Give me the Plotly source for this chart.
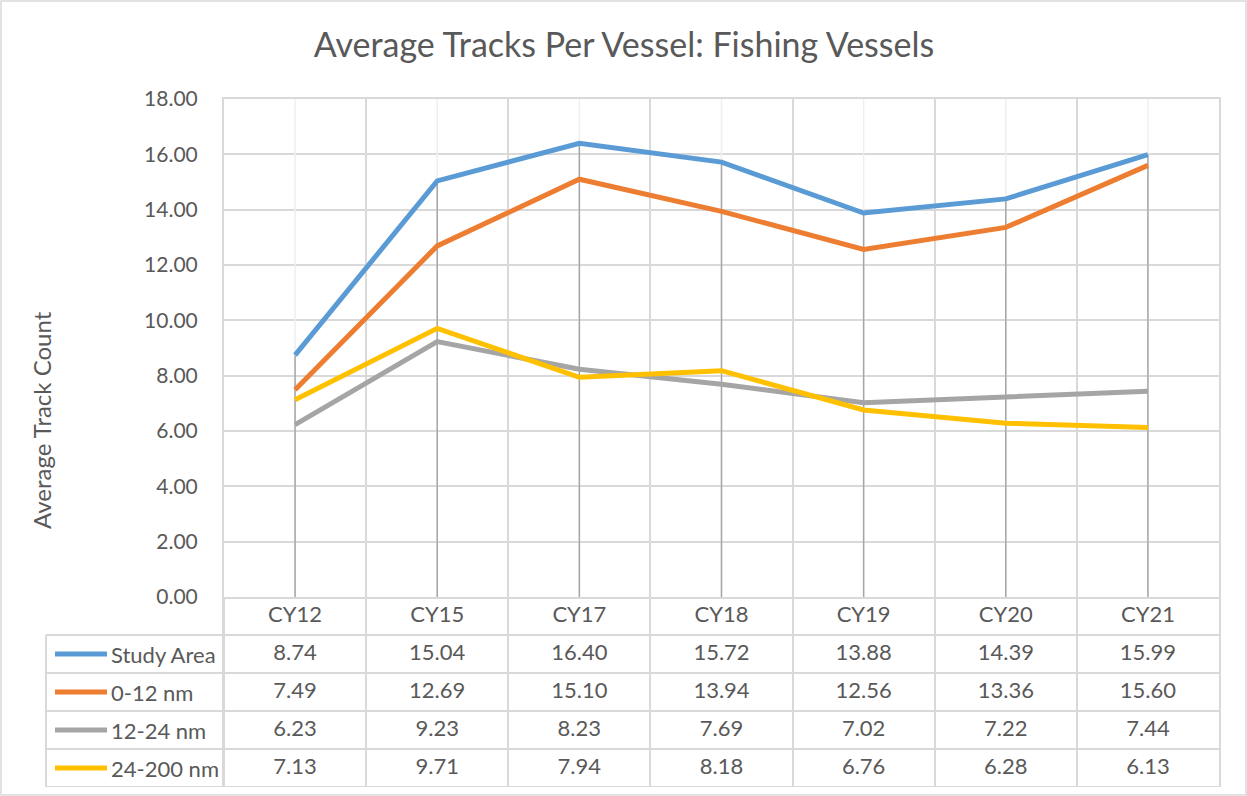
import plotly.graph_objects as go

# data
categories = ["CY12", "CY15", "CY17", "CY18", "CY19", "CY20", "CY21"]
series_names = ["Study Area", "0-12 nm", "12-24 nm", "24-200 nm"]
study_area = [8.74, 15.04, 16.40, 15.72, 13.88, 14.39, 15.99]
nm_0_12 = [7.49, 12.69, 15.10, 13.94, 12.56, 13.36, 15.60]
nm_12_24 = [6.23, 9.23, 8.23, 7.69, 7.02, 7.22, 7.44]
nm_24_200 = [7.13, 9.71, 7.94, 8.18, 6.76, 6.28, 6.13]
y_ticks = [0, 2, 4, 6, 8, 10, 12, 14, 16, 18]

series_values = [study_area, nm_0_12, nm_12_24, nm_24_200]
colors = ["#5B9BD5", "#ED7D31", "#A5A5A5", "#FFC000"]

FONT = "Lato"
TXT = "#595959"
GRID = "#D9D9D9"

W, H = 1247, 796
L, R, T, B = 224, 28, 99, 9
EXTRA = 14  # spare layout height under the chart, the page comes out a bit short otherwise
plot_w = W - L - R
plot_h = H - T - B


def px_x(px):
    # pixel -> paper x
    return (px - L) / plot_w


def px_y(py):
    # pixel -> paper y
    return (H - B - py) / plot_h


main_bottom = px_y(597)

fig = go.Figure()

# series lines
for name, vals, col in zip(series_names, series_values, colors):
    fig.add_trace(go.Scatter(x=categories, y=vals, mode="lines", name=name,
                             line=dict(color=col, width=5), showlegend=False,
                             hoverinfo="x+y+name"))

# data table (rows 1..4), header row 0 with the categories
cell_font = dict(family=FONT, size=22, color=TXT)
fig.add_trace(go.Scatter(x=categories, y=[0] * len(categories), mode="text",
                         text=categories, xaxis="x", yaxis="y2",
                         textfont=cell_font, showlegend=False, hoverinfo="skip"))
for i, vals in enumerate(series_values):
    fig.add_trace(go.Scatter(x=categories, y=[i + 1] * len(categories), mode="text",
                             text=[f"{v:.2f}" for v in vals], xaxis="x", yaxis="y2",
                             textfont=cell_font, showlegend=False, hoverinfo="skip"))

shapes = []
# faint centre lines and drop lines
tops = [max(vals) for vals in zip(*series_values)]
for cat, top in zip(categories, tops):
    shapes.append(dict(type="line", xref="x", yref="y", x0=cat, x1=cat,
                       y0=0, y1=y_ticks[-1], layer="between",
                       line=dict(color="#EFEFEF", width=1.5)))
    shapes.append(dict(type="line", xref="x", yref="y", x0=cat, x1=cat,
                       y0=0, y1=top, layer="between",
                       line=dict(color="#A5A5A5", width=1.5)))

# table lines
for r in [0.5, 1.5, 2.5, 3.5, 4.5]:
    shapes.append(dict(type="line", xref="paper", yref="y2", x0=px_x(46), x1=1,
                       y0=r, y1=r, line=dict(color=GRID, width=2)))
for xp in [46, 224]:
    shapes.append(dict(type="line", xref="paper", yref="y2", x0=px_x(xp), x1=px_x(xp),
                       y0=0.5 if xp == 46 else -0.5, y1=4.5,
                       line=dict(color=GRID, width=2)))

# legend keys in the table
annotations = []
for i, (name, col) in enumerate(zip(series_names, colors)):
    shapes.append(dict(type="line", xref="paper", yref="y2", x0=px_x(55), x1=px_x(107),
                       y0=i + 1, y1=i + 1, line=dict(color=col, width=5)))
    annotations.append(dict(text=name, xref="paper", yref="y2", x=px_x(109), y=i + 1,
                            xanchor="left", yanchor="middle", showarrow=False,
                            font=cell_font))

# axis title
annotations.append(dict(text="Average Track Count", xref="paper", yref="paper",
                        x=px_x(41), y=px_y(420), textangle=-90, showarrow=False,
                        xanchor="center", yanchor="middle",
                        font=dict(family=FONT, size=24, color=TXT)))

# chart border
shapes.append(dict(type="rect", xref="paper", yref="paper",
                   x0=px_x(1), x1=px_x(W - 1), y0=px_y(H - 1), y1=px_y(1),
                   line=dict(color=GRID, width=1.5)))

fig.update_layout(
    width=W, height=H + EXTRA, autosize=False,
    margin=dict(l=L, r=R, t=T, b=B + EXTRA),
    paper_bgcolor="white", plot_bgcolor="white",
    title=dict(text="Average Tracks Per Vessel: Fishing Vessels",
               x=624 / W, xanchor="center", y=1 - 45 / (H + EXTRA), yanchor="middle",
               font=dict(family=FONT, size=34, color=TXT)),
    xaxis=dict(type="category", categoryorder="array", categoryarray=categories,
               range=[-0.5, len(categories) - 0.5], tickson="boundaries",
               showgrid=True, gridcolor=GRID, gridwidth=1.5,
               showticklabels=False, ticks="",
               showline=True, linecolor=GRID, linewidth=2, mirror=True,
               anchor="y"),
    yaxis=dict(domain=[main_bottom, 1], range=[0, 18], tickvals=y_ticks,
               tickformat=".2f", showgrid=True, gridcolor=GRID, gridwidth=1.5,
               zeroline=False, showline=True, linecolor=GRID, linewidth=2,
               mirror=True, ticks="", ticklabelstandoff=20,
               tickfont=dict(family=FONT, size=21, color=TXT)),
    yaxis2=dict(domain=[0, main_bottom], range=[4.5, -0.5], showgrid=False,
                zeroline=False, showticklabels=False, ticks="",
                showline=True, linecolor=GRID, linewidth=2, mirror=True,
                anchor="x"),
    shapes=shapes,
    annotations=annotations,
    hovermode="closest",
)

# drop the browser's default page margin so the figure sits at the window origin
fig.write_html("out.html",
               config={"displayModeBar": False, "responsive": False},
               post_script="document.body.style.margin='0';")
